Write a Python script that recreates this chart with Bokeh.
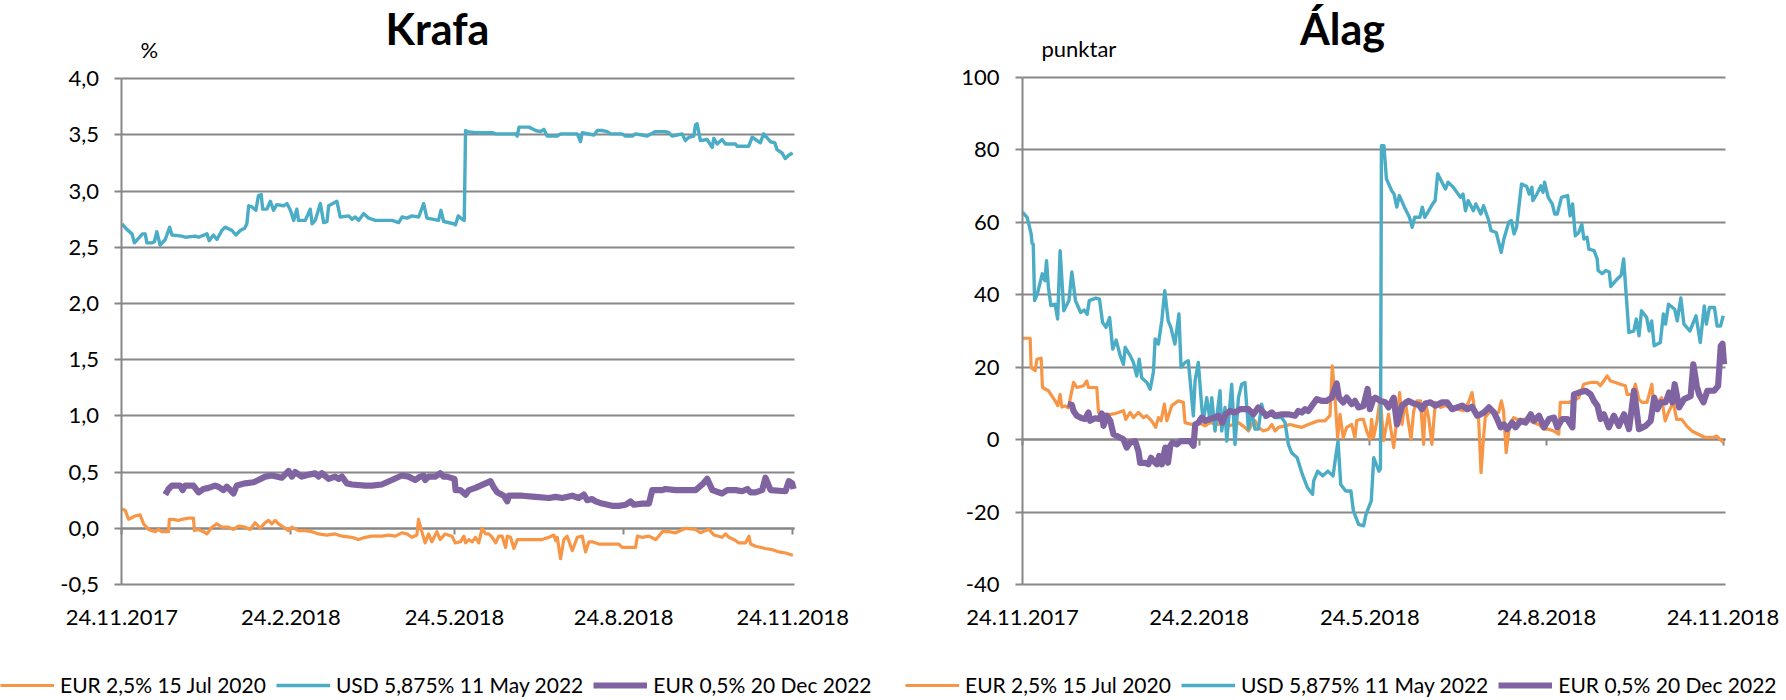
import datetime as dt
from bokeh.plotting import figure
from bokeh.layouts import row
from bokeh.models import (Range1d, FixedTicker, LinearAxis, Legend, LegendItem,
                          Label, ColumnDataSource, Grid)
from bokeh.embed import file_html
from bokeh.resources import INLINE

# ---------------- data ----------------
START = "24.11.2017"
tick_labels = ["24.11.2017", "24.2.2018", "24.5.2018", "24.8.2018", "24.11.2018"]
series_names = ["EUR 2,5% 15 Jul 2020", "USD 5,875% 11 May 2022", "EUR 0,5% 20 Dec 2022"]

krafa_title = "Krafa"
krafa_unit = "%"
krafa_yticks = [-0.5, 0.0, 0.5, 1.0, 1.5, 2.0, 2.5, 3.0, 3.5, 4.0]
krafa_ylabels = ["-0,5", "0,0", "0,5", "1,0", "1,5", "2,0", "2,5", "3,0", "3,5", "4,0"]

alag_title = "Álag"
alag_unit = "punktar"
alag_yticks = [-40, -20, 0, 20, 40, 60, 80, 100]
alag_ylabels = ["-40", "-20", "0", "20", "40", "60", "80", "100"]

# (days after 24.11.2017, yield %)
krafa_eur2020 = [
    (0, 0.17), (1.8, 0.16), (3.6, 0.08), (7.2, 0.11), (9.9, 0.12), (11.8, 0.04), (14.5, -0.01),
    (18.1, -0.03), (19.9, -0.01), (21.7, -0.03), (25.4, -0.03), (25.8, 0.08), (28.0, 0.08),
    (30.8, 0.07), (32.6, 0.08), (36.3, 0.09), (38.9, 0.09), (39.5, -0.02), (41.7, -0.01),
    (44.4, -0.03), (46.2, -0.05), (49.0, 0.01), (51.6, 0.04), (54.4, 0.01), (58.0, 0.01),
    (60.7, -0.01), (63.4, 0.02), (67.1, 0.01), (69.8, -0.01), (72.5, 0.05), (75.2, 0.00),
    (78.0, 0.05), (79.8, 0.07), (81.6, 0.04), (83.4, 0.07), (85.2, 0.04), (87.9, 0.01),
    (90.7, -0.02), (92.5, 0.01), (96.1, -0.02), (99.7, -0.02), (103.4, -0.03), (107.0, -0.05),
    (111.5, -0.06), (116.0, -0.05), (119.7, -0.07), (125.2, -0.08), (128.7, -0.10),
    (132.4, -0.08), (136.0, -0.07), (141.4, -0.07), (145.1, -0.06), (148.7, -0.07),
    (152.3, -0.04), (155.1, -0.05), (157.8, -0.08), (160.5, -0.06), (161.4, 0.08),
    (163.2, -0.03), (165.0, -0.13), (166.9, -0.05), (168.7, -0.12), (171.4, -0.03),
    (173.2, -0.10), (175.9, -0.05), (179.6, -0.07), (181.5, -0.13), (184.2, -0.12),
    (186.1, -0.07), (187.0, -0.13), (188.8, -0.10), (190.7, -0.12), (192.4, -0.08),
    (194.2, -0.13), (196.0, 0.00), (197.9, -0.05), (199.7, -0.05), (201.5, -0.08),
    (203.4, -0.13), (205.1, -0.07), (206.9, -0.07), (208.8, -0.17), (209.7, -0.07),
    (211.5, -0.08), (213.3, -0.18), (215.2, -0.10), (217.8, -0.10), (225.1, -0.10),
    (228.7, -0.10), (232.4, -0.08), (235.1, -0.06), (236.0, -0.11), (236.9, -0.08),
    (238.7, -0.27), (240.5, -0.10), (242.3, -0.07), (245.1, -0.20), (247.8, -0.08),
    (250.5, -0.07), (252.3, -0.21), (254.1, -0.12), (256.0, -0.12), (259.5, -0.14),
    (266.8, -0.14), (270.4, -0.14), (272.2, -0.17), (279.5, -0.17), (280.5, -0.07),
    (283.1, -0.08), (286.8, -0.07), (290.4, -0.10), (292.2, -0.07), (294.0, -0.03),
    (297.7, -0.03), (301.3, -0.04), (304.0, -0.02), (306.7, 0.00), (312.2, -0.01),
    (314.8, -0.04), (317.6, -0.02), (319.4, -0.01), (322.2, -0.06), (326.6, -0.08),
    (328.5, -0.05), (330.3, -0.08), (333.0, -0.10), (335.7, -0.13), (339.4, -0.13),
    (341.2, -0.07), (342.1, -0.14), (344.8, -0.16), (350.2, -0.18), (353.9, -0.19),
    (357.6, -0.21), (361.1, -0.22), (365.1, -0.24),
]
krafa_usd2022 = [
    (0, 2.71), (2.7, 2.66), (5.5, 2.62), (6.8, 2.54), (9.0, 2.58), (11.2, 2.62), (12.7, 2.62),
    (13.6, 2.54), (16.3, 2.54), (17.7, 2.55), (19.0, 2.64), (20.8, 2.52), (23.6, 2.57),
    (26.0, 2.68), (27.2, 2.61), (32.6, 2.60), (34.5, 2.59), (39.9, 2.60), (41.7, 2.59),
    (46.3, 2.62), (47.5, 2.56), (49.8, 2.61), (51.7, 2.57), (54.4, 2.65), (56.2, 2.68),
    (59.9, 2.65), (62.0, 2.61), (64.4, 2.65), (66.8, 2.67), (68.0, 2.71), (69.0, 2.87),
    (70.8, 2.86), (72.9, 2.83), (74.3, 2.96), (75.8, 2.97), (76.6, 2.84), (78.9, 2.84),
    (80.8, 2.91), (82.5, 2.83), (84.3, 2.88), (88.0, 2.87), (89.8, 2.89), (91.7, 2.83),
    (93.5, 2.74), (95.2, 2.84), (96.1, 2.74), (99.8, 2.74), (102.5, 2.84), (103.5, 2.71),
    (105.2, 2.74), (108.0, 2.89), (109.8, 2.72), (111.6, 2.73), (112.5, 2.87), (117.0, 2.91),
    (118.8, 2.77), (123.4, 2.78), (125.2, 2.75), (127.0, 2.77), (128.8, 2.74), (131.5, 2.80),
    (134.3, 2.76), (137.9, 2.74), (147.0, 2.74), (150.6, 2.72), (152.4, 2.77), (155.1, 2.76),
    (157.9, 2.78), (161.5, 2.77), (164.2, 2.89), (166.0, 2.76), (172.3, 2.74), (173.6, 2.83),
    (175.1, 2.73), (180.6, 2.71), (181.5, 2.70), (183.0, 2.78), (185.2, 2.75), (186.3, 2.74),
    (187.0, 3.54), (187.9, 3.53), (192.4, 3.52), (201.5, 3.52), (203.4, 3.51), (214.3, 3.51),
    (215.1, 3.49), (216.1, 3.57), (221.5, 3.57), (225.1, 3.54), (227.8, 3.53), (229.6, 3.55),
    (231.4, 3.49), (236.8, 3.49), (238.7, 3.51), (247.8, 3.51), (249.5, 3.44), (250.5, 3.52),
    (256.9, 3.50), (258.7, 3.54), (261.3, 3.54), (264.1, 3.53), (265.9, 3.51), (272.1, 3.51),
    (274.0, 3.49), (277.7, 3.49), (279.5, 3.51), (283.0, 3.50), (285.8, 3.49), (290.4, 3.53),
    (295.7, 3.53), (297.6, 3.52), (299.4, 3.49), (302.1, 3.50), (304.8, 3.51), (306.6, 3.45),
    (308.5, 3.48), (311.2, 3.49), (312.1, 3.59), (313.0, 3.60), (314.8, 3.45), (318.4, 3.46),
    (321.2, 3.39), (322.1, 3.47), (323.9, 3.42), (326.6, 3.46), (328.4, 3.42), (333.9, 3.42),
    (334.8, 3.40), (341.1, 3.40), (343.0, 3.48), (344.8, 3.46), (347.4, 3.43), (349.2, 3.51),
    (352.9, 3.44), (355.3, 3.43), (356.5, 3.37), (359.2, 3.34), (361.0, 3.29), (362.8, 3.32),
    (365.0, 3.34),
]
krafa_eur2022 = [
    (23.6, 0.30), (25.4, 0.35), (27.2, 0.38), (31.7, 0.38), (33.0, 0.34), (34.4, 0.38),
    (38.9, 0.38), (41.7, 0.32), (44.4, 0.35), (47.2, 0.36), (50.7, 0.38), (52.5, 0.37),
    (55.3, 0.34), (57.1, 0.37), (59.0, 0.34), (60.7, 0.31), (62.5, 0.38), (67.1, 0.40),
    (71.7, 0.41), (74.3, 0.43), (78.0, 0.46), (81.6, 0.47), (87.0, 0.45), (88.9, 0.48),
    (90.7, 0.51), (92.5, 0.46), (94.3, 0.50), (97.9, 0.46), (102.5, 0.48), (105.1, 0.49),
    (107.0, 0.46), (108.8, 0.49), (112.5, 0.44), (116.0, 0.46), (117.9, 0.44), (119.7, 0.46),
    (122.4, 0.40), (125.2, 0.39), (132.4, 0.38), (136.0, 0.38), (141.4, 0.39), (146.9, 0.43),
    (152.3, 0.47), (156.0, 0.46), (159.6, 0.43), (162.3, 0.46), (164.1, 0.47), (165.0, 0.43),
    (166.9, 0.46), (170.5, 0.46), (173.2, 0.49), (175.0, 0.46), (176.8, 0.46), (181.0, 0.44),
    (181.6, 0.34), (184.2, 0.34), (187.0, 0.30), (188.8, 0.34), (192.4, 0.36), (195.1, 0.38),
    (197.9, 0.40), (200.6, 0.42), (202.5, 0.36), (204.2, 0.32), (207.8, 0.29), (209.7, 0.24),
    (210.6, 0.29), (217.8, 0.29), (225.1, 0.28), (232.4, 0.27), (236.0, 0.28), (239.6, 0.27),
    (245.1, 0.29), (248.6, 0.27), (251.4, 0.30), (253.2, 0.25), (255.9, 0.26), (257.8, 0.24),
    (261.3, 0.22), (266.8, 0.20), (270.4, 0.20), (274.1, 0.21), (276.8, 0.24), (278.6, 0.21),
    (283.1, 0.22), (286.8, 0.22), (288.6, 0.34), (294.0, 0.34), (295.8, 0.35), (301.3, 0.34),
    (306.7, 0.34), (312.2, 0.34), (315.8, 0.39), (318.5, 0.44), (321.3, 0.34), (326.6, 0.31),
    (329.4, 0.34), (334.0, 0.34), (337.5, 0.33), (340.3, 0.35), (342.1, 0.32), (344.8, 0.32),
    (348.4, 0.34), (350.2, 0.45), (353.0, 0.34), (361.1, 0.33), (362.9, 0.42), (364.7, 0.40),
    (365.5, 0.35),
]

# (days after 24.11.2017, spread in points)
alag_eur2020 = [
    (0, 28.0), (4.0, 28.0), (4.5, 19.9), (6.6, 19.0), (7.5, 22.2), (9.7, 22.5), (10.4, 14.4),
    (13.5, 13.5), (17.0, 10.7), (18.4, 9.4), (19.6, 12.5), (20.5, 9.0), (22.2, 9.3), (23.9, 8.8),
    (26.6, 15.8), (28.3, 14.4), (31.8, 14.9), (33.5, 16.2), (34.4, 14.4), (38.7, 14.4),
    (39.6, 7.5), (43.0, 7.0), (45.7, 7.0), (48.3, 7.2), (50.0, 7.5), (52.6, 8.0), (53.8, 5.6),
    (56.1, 7.5), (57.8, 6.1), (60.4, 7.5), (63.0, 6.1), (64.7, 6.6), (67.3, 5.2), (69.4, 3.4),
    (70.8, 6.1), (72.2, 5.2), (73.9, 9.8), (75.2, 5.2), (77.8, 9.4), (81.2, 10.7), (83.8, 10.3),
    (84.7, 4.7), (88.2, 4.2), (91.6, 4.7), (95.1, 3.8), (97.7, 4.7), (102.1, 4.2), (105.5, 4.7),
    (107.3, 3.8), (109.9, 4.2), (112.5, 4.7), (115.9, 3.4), (117.7, 2.4), (119.4, 4.2),
    (121.1, 5.2), (122.9, 3.4), (125.5, 2.4), (128.1, 2.9), (129.9, 4.2), (131.6, 2.4),
    (133.3, 3.4), (136.8, 3.8), (139.4, 4.2), (142.0, 3.8), (145.5, 3.4), (148.9, 4.2),
    (151.5, 4.7), (154.1, 5.2), (157.6, 5.2), (160.2, 6.6), (161.4, 20.4), (162.8, 11.6),
    (164.2, 0.5), (165.4, 7.0), (167.1, 0.5), (168.9, 3.4), (171.5, 4.2), (173.2, 0.5),
    (174.1, 5.2), (175.8, 5.6), (177.6, 5.6), (179.3, 2.4), (181.0, 0.1), (181.9, 5.6),
    (182.9, 0.6), (184.7, 5.2), (186.4, 11.6), (188.1, -0.3), (190.7, 7.0), (193.4, -2.2),
    (195.1, 6.1), (196.5, 13.0), (197.7, 4.2), (199.4, 10.7), (201.2, 4.2), (202.4, 0.1),
    (203.8, 7.9), (205.5, 10.7), (207.3, 10.7), (209.0, -1.3), (209.9, 10.3), (211.6, 6.1),
    (213.3, -1.3), (215.1, 10.3), (217.7, 8.9), (220.3, 9.4), (222.9, 8.9), (226.4, 8.4),
    (229.8, 8.0), (232.4, 10.3), (234.2, 13.0), (235.9, 7.0), (237.6, 6.1), (238.9, -9.1),
    (240.2, 0.6), (241.1, 6.1), (243.7, 8.0), (246.3, 7.5), (248.1, 7.5), (249.5, 10.7),
    (250.6, 8.0), (252.0, -3.6), (253.8, 4.2), (255.9, 6.1), (257.6, 5.6), (262.8, 5.6),
    (266.3, 4.7), (268.9, 4.2), (271.5, 2.9), (274.1, 2.9), (276.7, 2.4), (279.4, 1.5),
    (280.2, 10.3), (284.6, 10.3), (287.2, 10.7), (289.8, 11.6), (292.4, 15.3), (295.9, 15.8),
    (299.4, 15.8), (301.1, 14.9), (302.8, 16.2), (304.6, 17.6), (306.3, 16.2), (308.9, 15.8),
    (311.5, 15.3), (314.1, 14.9), (315.0, 12.5), (317.6, 12.5), (319.3, 15.3), (321.1, 11.2),
    (322.8, 10.3), (325.4, 10.3), (327.9, 15.3), (328.8, 9.4), (330.9, 10.3), (333.0, 11.6),
    (334.8, 5.2), (336.5, 7.5), (339.1, 10.3), (340.8, 5.6), (343.4, 5.6), (346.0, 3.8),
    (348.7, 2.4), (352.1, 1.5), (355.6, 0.6), (359.9, 0.6), (361.7, 1.0), (363.4, 0.1),
    (365.2, -0.8),
]
alag_usd2022 = [
    (0, 62.8), (2.4, 61.4), (3.7, 58.6), (4.5, 56.8), (5.0, 54.2), (5.6, 54.0), (6.3, 38.4),
    (7.7, 40.2), (10.3, 45.8), (11.7, 43.9), (12.5, 49.4), (13.5, 42.1), (14.8, 37.0),
    (17.0, 37.4), (18.3, 33.3), (19.6, 52.2), (21.5, 35.6), (24.2, 38.4), (25.7, 46.3),
    (27.6, 38.4), (30.3, 35.1), (32.1, 35.8), (33.7, 34.6), (34.8, 38.4), (38.2, 39.1),
    (40.1, 38.8), (41.7, 32.4), (43.5, 31.0), (45.4, 33.7), (47.0, 25.0), (48.8, 27.5),
    (50.9, 23.2), (52.6, 20.8), (53.5, 25.5), (56.1, 23.2), (57.8, 21.3), (59.5, 17.6),
    (60.8, 22.2), (62.1, 17.1), (64.8, 15.8), (66.5, 13.9), (68.2, 18.6), (69.1, 27.8),
    (70.8, 26.4), (72.6, 33.0), (74.1, 41.1), (75.9, 32.8), (77.3, 31.0), (79.4, 26.4),
    (81.5, 34.7), (82.6, 20.0), (84.7, 21.3), (86.4, 21.8), (89.0, 6.6), (89.9, 16.2),
    (91.6, 21.3), (93.4, 8.9), (94.2, 5.2), (96.0, 11.6), (97.7, 5.2), (98.6, 11.6),
    (100.3, 2.4), (102.9, 13.5), (103.8, 2.4), (105.5, 8.9), (106.4, -0.4), (109.0, 15.3),
    (110.7, -1.3), (112.5, 11.6), (114.2, 15.3), (115.9, 15.8), (117.7, 2.9), (119.4, 7.9),
    (121.1, 2.9), (122.9, 2.9), (124.6, 9.8), (126.4, 6.1), (128.9, 7.0), (131.6, 6.1),
    (135.0, 6.1), (136.8, 4.7), (138.5, -1.3), (140.2, -3.6), (143.1, -5.0), (145.8, -9.6),
    (148.5, -13.3), (151.1, -15.1), (151.7, -11.4), (153.8, -8.7), (156.4, -10.0),
    (159.1, -8.7), (161.8, -10.0), (163.1, -5.0), (164.4, -0.4), (165.8, -12.4),
    (168.4, -14.2), (171.1, -14.2), (172.4, -19.7), (175.1, -23.4), (177.7, -23.8),
    (179.0, -20.6), (181.7, -16.9), (183.0, -5.0), (185.7, -8.7), (186.5, -8.0),
    (187.0, 81.2), (188.3, 81.2), (189.6, 72.0), (192.3, 68.8), (193.6, 67.8), (195.0, 64.2),
    (196.3, 67.4), (199.0, 64.2), (201.6, 61.4), (203.0, 58.6), (204.3, 61.4), (207.0, 61.4),
    (208.3, 64.2), (209.6, 61.4), (213.7, 65.1), (215.0, 66.0), (216.3, 73.4), (219.0, 70.6),
    (220.4, 69.2), (221.7, 71.1), (224.4, 69.7), (228.2, 66.9), (229.5, 67.8), (230.8, 63.2),
    (232.2, 66.0), (234.9, 63.2), (236.2, 65.1), (238.8, 62.3), (240.2, 64.6), (242.9, 60.5),
    (244.1, 57.7), (246.8, 57.2), (249.4, 51.7), (250.8, 55.4), (253.4, 60.1), (254.7, 60.5),
    (256.1, 56.8), (257.4, 58.6), (260.0, 70.6), (262.7, 69.9), (264.0, 67.8), (265.4, 69.7),
    (265.9, 66.0), (268.0, 67.8), (270.1, 70.1), (271.2, 68.3), (272.0, 71.1), (273.9, 66.9),
    (276.0, 65.1), (277.3, 62.3), (278.6, 62.3), (280.8, 66.9), (284.0, 67.4), (285.3, 61.8),
    (286.6, 65.1), (288.0, 56.3), (289.8, 57.2), (291.4, 59.5), (292.5, 55.4), (294.1, 55.9),
    (295.1, 52.6), (297.8, 52.2), (299.4, 49.9), (299.9, 46.7), (302.0, 45.8), (303.9, 46.7),
    (305.7, 46.3), (306.5, 42.3), (309.2, 44.0), (311.9, 45.4), (313.2, 49.9), (314.5, 40.2),
    (315.9, 29.6), (318.5, 30.0), (319.8, 33.3), (321.2, 28.7), (322.5, 35.6), (325.2, 33.7),
    (326.5, 30.0), (327.8, 32.8), (329.1, 25.9), (332.3, 26.8), (333.9, 34.7), (335.0, 31.9),
    (336.6, 37.4), (339.8, 36.0), (341.1, 32.8), (343.0, 39.1), (344.6, 31.9), (347.7, 30.0),
    (350.9, 34.2), (353.1, 26.8), (355.2, 36.9), (356.3, 31.9), (357.9, 36.5), (360.5, 36.5),
    (361.9, 31.4), (363.7, 31.4), (365.1, 34.2),
]
alag_eur2022 = [
    (23.6, 9.8), (25.7, 9.6), (26.6, 7.9), (28.3, 6.6), (30.9, 5.9), (32.6, 5.7), (34.4, 7.5),
    (35.2, 5.2), (37.8, 5.9), (39.9, 5.7), (41.3, 7.2), (42.2, 3.8), (43.9, 6.6), (45.7, 5.2),
    (47.4, 1.5), (50.0, 0.8), (52.6, 0.1), (54.3, -2.2), (56.1, -0.8), (58.7, -0.4),
    (60.4, -3.2), (61.3, -6.4), (63.9, -6.4), (65.6, -6.8), (67.0, -5.0), (68.2, -5.9),
    (70.0, -6.8), (71.2, -4.5), (72.6, -6.8), (74.4, -2.2), (75.8, -6.4), (77.0, -1.7),
    (78.2, -0.8), (80.5, -1.3), (82.2, -0.4), (84.7, -0.4), (87.3, -0.4), (89.1, -1.7),
    (90.0, 4.2), (91.6, 4.7), (93.4, 6.1), (95.1, 5.2), (97.7, 5.7), (100.3, 6.1), (102.1, 6.6),
    (104.1, 4.7), (105.9, 7.0), (108.1, 7.9), (110.7, 7.5), (113.3, 8.4), (117.7, 8.4),
    (120.3, 7.0), (122.9, 8.9), (125.5, 7.5), (127.2, 6.6), (129.9, 7.5), (131.6, 6.6),
    (135.0, 7.0), (138.5, 7.0), (142.0, 6.6), (143.7, 7.9), (145.5, 7.5), (147.2, 8.4),
    (148.9, 7.9), (150.7, 9.3), (153.3, 11.2), (155.9, 10.7), (158.5, 10.7), (161.1, 11.6),
    (163.7, 15.5), (164.9, 11.6), (167.1, 10.3), (168.9, 11.6), (171.5, 9.8), (173.2, 10.7),
    (175.0, 8.9), (177.6, 9.3), (179.8, 14.0), (181.0, 8.4), (182.8, 11.2), (183.8, 11.6),
    (186.4, 10.7), (189.0, 10.3), (190.7, 8.9), (193.4, 11.6), (195.1, 4.2), (197.7, 9.4),
    (201.2, 10.7), (203.8, 10.0), (206.4, 9.6), (208.1, 8.4), (209.9, 10.0), (212.5, 10.3),
    (215.1, 9.4), (218.6, 10.3), (221.2, 10.3), (223.8, 8.4), (226.4, 8.9), (229.1, 9.4),
    (231.7, 8.4), (234.2, 9.1), (236.9, 6.6), (238.7, 7.0), (240.4, 7.5), (243.0, 8.9),
    (245.6, 7.5), (247.3, 5.7), (249.1, 3.4), (250.8, 4.2), (252.5, 2.9), (255.1, 4.7),
    (256.9, 3.4), (259.5, 5.2), (262.1, 4.7), (264.8, 7.0), (266.5, 5.2), (269.1, 6.6),
    (271.7, 3.4), (274.3, 5.7), (276.9, 6.1), (278.6, 3.4), (281.2, 5.7), (283.8, 5.7),
    (286.5, 3.4), (287.3, 12.5), (289.9, 13.0), (293.4, 13.5), (296.0, 12.5), (297.7, 10.7),
    (299.5, 9.4), (301.2, 5.7), (302.9, 7.0), (305.5, 3.4), (308.1, 6.6), (310.7, 3.8),
    (313.4, 7.0), (316.0, 2.9), (318.6, 13.5), (321.2, 2.9), (324.7, 3.8), (327.3, 5.2),
    (329.1, 11.6), (330.8, 8.4), (332.5, 10.3), (335.1, 10.3), (336.9, 13.0), (338.6, 10.3),
    (339.8, 15.3), (342.1, 8.9), (344.7, 11.2), (346.4, 11.6), (348.1, 12.0), (349.5, 20.8),
    (351.3, 14.8), (352.5, 12.5), (354.8, 10.3), (356.8, 13.5), (360.3, 13.5), (362.4, 14.8),
    (363.8, 25.9), (364.7, 26.5), (365.5, 20.8),
]

# ---------------- styling / layout ----------------
COLORS = ["#F79646", "#4BACC6", "#8064A2"]
WIDTHS = [3.2, 3.4, 6.2]
GRID = "#878787"
FONT = "Lato"
FS = "22px"
LEGEND_FS = "21px"
TITLE_FS = "43px"
W, H = 893, 700
PLOT_BOTTOM = 584           # pixel row of the lowest gridline


def day_of(s):
    d0 = dt.datetime.strptime(START, "%d.%m.%Y")
    return (dt.datetime.strptime(s, "%d.%m.%Y") - d0).days


tick_days = [day_of(s) for s in tick_labels]
x_end = tick_days[-1] + 1


def make_panel(title, unit, series, yticks, ylabels, plot_left, plot_right, plot_top,
               title_x, title_y, unit_left, unit_y, legend_left):
    ymin, ymax = yticks[0], yticks[-1]
    # The frame fills the whole canvas; all guides are pinned inside it, so the
    # title, unit and legend can be placed without being clipped.
    xs = (plot_right - plot_left) / x_end
    ys = (PLOT_BOTTOM - plot_top) / (ymax - ymin)
    xr = Range1d(-plot_left / xs, x_end + (W - plot_right) / xs)
    yr = Range1d(ymin - (H - PLOT_BOTTOM) / ys, ymax + plot_top / ys)
    p = figure(width=W, height=H, output_backend="svg", toolbar_location=None,
               x_range=xr, y_range=yr, title_location=None,
               x_axis_location=None, y_axis_location=None, min_border=0)
    p.center = [r for r in p.center if not isinstance(r, Grid)]
    p.outline_line_color = None
    p.background_fill_color = "white"
    p.border_fill_color = "white"

    yt = FixedTicker(ticks=yticks)
    xt = FixedTicker(ticks=tick_days)

    grid = Grid(dimension=1, ticker=yt, grid_line_color=GRID, grid_line_width=2,
                level="underlay")
    try:
        grid.cross_bounds = (0, x_end)
    except Exception:
        pass
    p.add_layout(grid)

    ya = LinearAxis(ticker=yt, fixed_location=0, bounds=(ymin, ymax),
                    major_label_overrides={t: l for t, l in zip(yticks, ylabels)},
                    axis_line_color=GRID, axis_line_width=2,
                    major_tick_line_color=GRID, major_tick_line_width=2,
                    major_tick_out=7, major_tick_in=0, minor_tick_line_color=None,
                    major_label_standoff=16, major_label_text_font=FONT,
                    major_label_text_font_size=FS, major_label_text_color="black")
    p.add_layout(ya, "left")

    xa = LinearAxis(ticker=xt, fixed_location=ymin, bounds=(0, x_end),
                    major_label_overrides={t: l for t, l in zip(tick_days, tick_labels)},
                    axis_line_color=None, major_tick_line_color=None,
                    major_tick_out=0, major_tick_in=0, minor_tick_line_color=None,
                    major_label_standoff=25, major_label_text_font=FONT,
                    major_label_text_font_size=FS, major_label_text_color="black")
    p.add_layout(xa, "below")

    zx = LinearAxis(ticker=xt, fixed_location=0, bounds=(0, x_end), level="underlay",
                    axis_line_color=GRID, axis_line_width=2,
                    major_tick_line_color=GRID, major_tick_line_width=2,
                    major_tick_out=6, major_tick_in=0, minor_tick_line_color=None,
                    major_label_text_font_size="0px", major_label_text_color=None,
                    major_label_standoff=0)
    p.add_layout(zx, "below")

    items = []
    for name, data, c, w in zip(series_names, series, COLORS, WIDTHS):
        src = ColumnDataSource(dict(day=[d for d, _ in data], val=[v for _, v in data]))
        r = p.line("day", "val", source=src, line_color=c, line_width=w, line_join="round")
        items.append(LegendItem(label=name, renderers=[r]))

    leg = Legend(items=items, orientation="horizontal", location=(legend_left, 3),
                 padding=0, margin=0, spacing=10, glyph_width=54, glyph_height=20,
                 label_standoff=6, label_text_font=FONT, label_text_font_size=LEGEND_FS,
                 label_text_color="black", border_line_color=None,
                 background_fill_alpha=0)
    p.add_layout(leg)

    p.add_layout(Label(x=title_x, y=H - title_y, x_units="screen", y_units="screen",
                       text=title, text_align="center", text_baseline="alphabetic",
                       text_font=FONT, text_font_size=TITLE_FS, text_font_style="bold",
                       text_color="black"))
    p.add_layout(Label(x=unit_left, y=H - unit_y, x_units="screen", y_units="screen",
                       text=unit, text_align="left", text_baseline="alphabetic",
                       text_font=FONT, text_font_size=FS, text_color="black"))
    return p


p1 = make_panel(krafa_title, krafa_unit, [krafa_eur2020, krafa_usd2022, krafa_eur2022],
                krafa_yticks, krafa_ylabels, plot_left=121.4, plot_right=794, plot_top=78.3,
                title_x=437, title_y=28, unit_left=140, unit_y=49, legend_left=0)
p2 = make_panel(alag_title, alag_unit, [alag_eur2020, alag_usd2022, alag_eur2022],
                alag_yticks, alag_ylabels, plot_left=129, plot_right=831.5, plot_top=77,
                title_x=449, title_y=28, unit_left=148, unit_y=48, legend_left=12)

layout = row(p1, p2)
open("out.html", "w").write(file_html(layout, INLINE))
